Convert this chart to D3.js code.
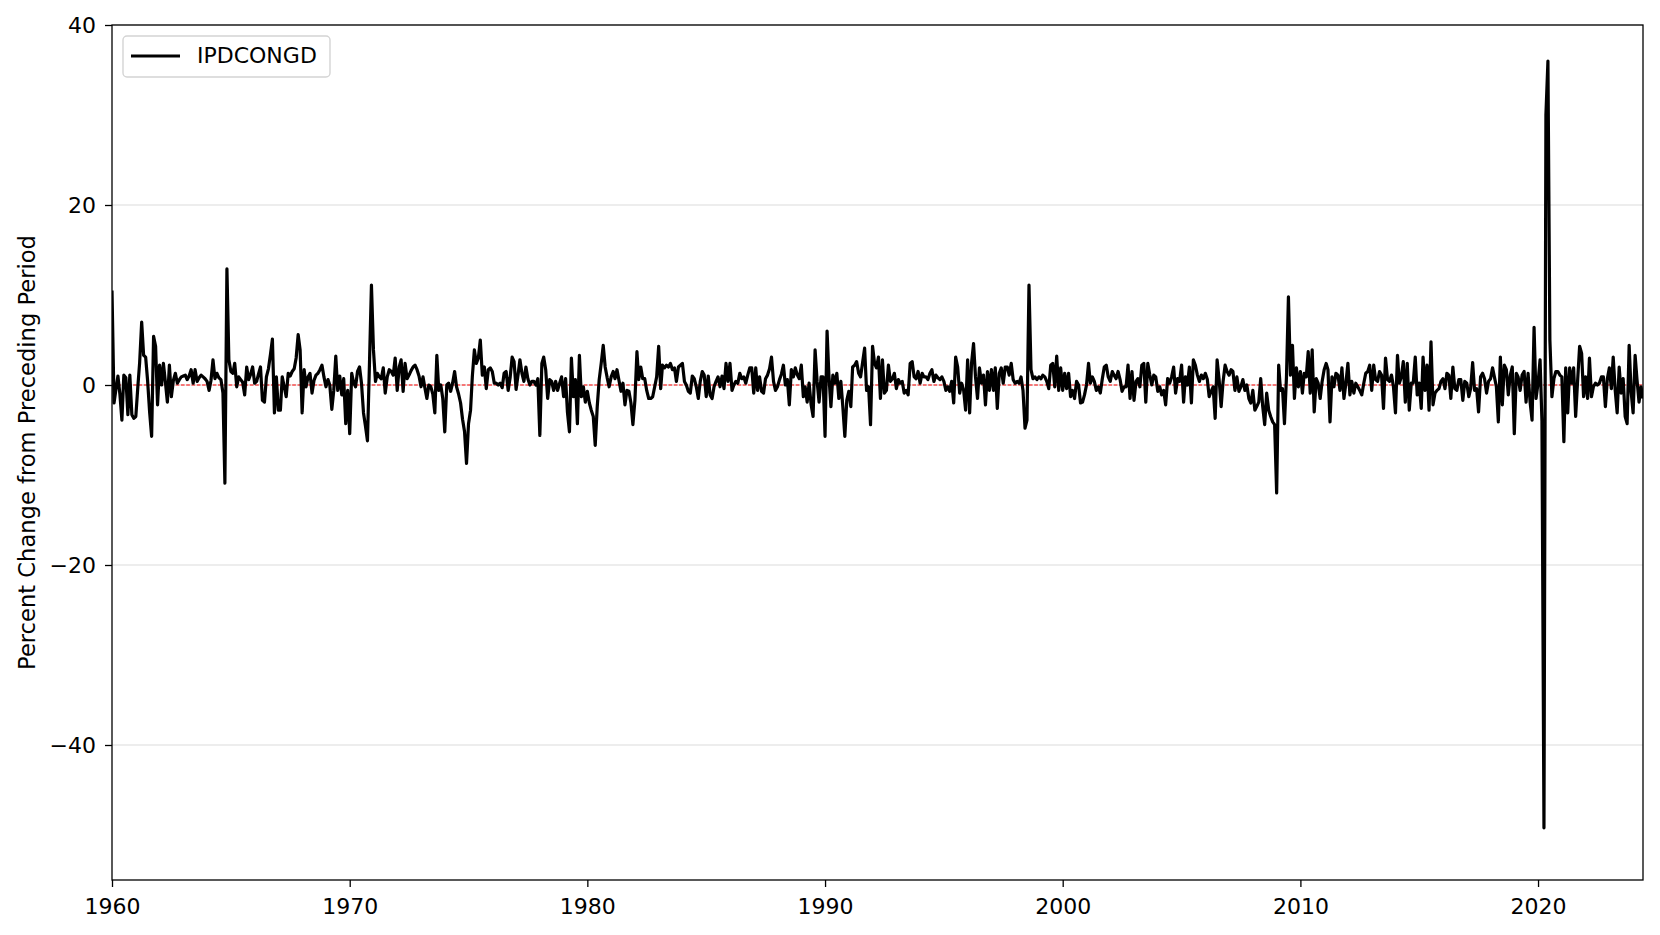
<!doctype html>
<html lang="en">
<head>
<meta charset="utf-8">
<title>IPDCONGD</title>
<script src="https://cdn.jsdelivr.net/npm/d3@7"></script>
<style>
  body { margin: 0; background: #fff; }
  svg { display: block; font-family: "DejaVu Sans", sans-serif; }
</style>
</head>
<body>
<svg id="chart" width="1660" height="935"></svg>
<script>
// monthly percent change, starting Jan 1960, one array per decade (12 values per line = one year)
const pct1960s = [
  10.5, -2.0, -0.5, 1.0, -1.0, -3.9, 1.1, 0.8, -3.3, 1.1, -3.3, -3.7,
  -3.5, -0.2, 2.5, 7.0, 3.3, 3.1, 0.5, -3.0, -5.7, 5.4, 4.3, -2.2,
  2.2, 0.0, 2.4, 0.3, -1.9, 2.2, -1.3, 0.5, 1.3, 0.2, 0.6, 0.9,
  1.0, 1.1, 0.6, 1.0, 1.7, 0.2, 1.7, 0.4, 0.8, 1.1, 0.9, 0.7,
  0.4, -0.6, 0.5, 2.8, 0.7, 1.3, 0.8, 0.6, -0.9, -10.9, 12.9, 2.8,
  1.5, 1.3, 2.4, -0.2, 0.9, 0.6, 0.3, -1.1, 2.0, 0.6, 1.2, 2.0,
  0.2, 0.4, 1.2, 2.0, -1.7, -1.9, 0.9, 1.8, 3.4, 5.1, -3.1, 0.9,
  -2.8, -2.8, 0.9, -0.2, -1.3, 1.3, 1.0, 1.5, 1.8, 3.0, 5.6, 3.9,
  -3.1, 1.7, -0.2, 0.9, 1.3, -0.9, 0.5, 1.1, 1.3, 1.7, 2.2, 0.9,
  -0.2, 0.6, 0.0, -2.7, -0.6, 3.2, -0.6, 1.0, -1.1, 0.7, -4.3, -0.6
];
const pct1970s = [
  -5.4, 1.3, 0.3, -0.2, 1.5, 2.0, 0.2, -3.1, -4.6, -6.2, 2.5, 11.1,
  3.9, 0.4, 1.3, 0.9, 0.7, 1.9, -0.9, 0.9, 1.7, 1.5, 1.1, 3.0,
  -0.6, 2.0, 2.8, -0.7, 2.4, 0.7, 1.1, 1.6, 2.0, 2.2, 1.7, 1.0,
  -0.2, 0.9, -0.3, -1.5, 0.0, -0.2, -1.0, -3.1, 3.3, -0.6, 0.0, -1.5,
  -5.2, 0.0, 0.2, -0.7, 0.2, 1.5, -0.2, -1.0, -2.0, -3.8, -5.2, -8.7,
  -4.3, -2.8, 1.0, 3.9, 2.4, 3.0, 5.0, 1.1, 2.0, -0.4, 1.7, 1.9,
  1.5, 0.2, 0.2, 0.0, 0.2, -0.3, 1.3, 1.5, -0.6, 0.8, 3.1, 2.6,
  -0.5, 1.2, 2.8, 1.3, 0.4, 2.0, 0.7, 0.0, 0.4, 0.4, 0.0, 0.7,
  -5.6, 2.4, 3.1, 1.7, -1.5, 0.6, 0.4, -0.6, 0.4, -0.6, 0.2, 0.9,
  -1.3, 0.7, -3.0, -5.2, 3.0, -1.3, 0.6, -4.3, 3.3, -1.3, -0.2, -1.9
];
const pct1980s = [
  -0.7, -2.0, -2.8, -3.5, -6.7, -2.4, 0.6, 2.4, 4.4, 2.0, 0.8, -0.2,
  0.9, 1.5, 0.7, 1.7, 0.5, -0.7, 0.2, -2.2, -0.6, -0.7, -2.0, -4.4,
  -1.7, 3.7, 0.6, 2.0, 0.7, 0.7, -0.6, -1.5, -1.5, -1.3, -0.2, 0.9,
  4.3, -0.4, 2.2, 1.9, 2.2, 2.0, 2.4, 1.7, 1.9, 0.4, 2.0, 2.2,
  2.4, 0.4, 0.0, -0.7, -0.9, 1.0, 0.7, -0.2, -1.5, 0.4, 1.5, 1.1,
  -1.3, 1.0, -1.1, -1.5, -0.2, 0.4, 0.9, -0.2, 1.0, -0.4, 2.4, 0.4,
  2.4, -0.6, 0.0, 0.4, 0.2, 1.3, 0.7, 0.9, 0.2, 1.1, 1.9, 1.9,
  -0.9, 1.9, -0.6, 0.9, -0.7, -0.9, 0.7, 1.1, 1.8, 3.1, 0.4, -0.6,
  -0.2, 0.6, 1.2, 2.2, 0.0, 0.6, -2.2, 1.7, 0.9, 1.9, 1.1, 0.7,
  2.2, -1.3, -0.2, -1.9, 0.2, -2.2, -3.5, 3.9, 0.4, -1.9, 0.9, 0.9
];
const pct1990s = [
  -5.7, 6.0, 1.1, -2.4, 1.1, 0.2, 1.3, -1.5, 0.4, -2.4, -5.7, -1.7,
  -0.7, -2.4, 2.0, 2.2, 2.6, 1.3, 0.9, 2.5, 4.1, -0.6, -0.2, -4.4,
  4.3, 2.4, 1.9, 3.1, -1.5, 2.8, -0.9, -0.6, 2.2, 0.4, 0.7, 1.3,
  -0.4, 0.6, 0.2, 0.4, -0.9, -0.6, -1.1, 2.4, 2.6, 0.9, 0.7, 1.5,
  0.2, 1.3, 0.9, 0.9, 0.6, 1.3, 1.7, 0.4, 1.1, 0.8, 0.6, 0.9,
  0.4, -0.6, -0.2, -0.7, 0.4, -2.0, 3.1, 2.0, -0.9, 0.2, -0.6, -2.8,
  2.8, -3.1, 2.4, 4.6, 0.9, -1.5, 1.9, 0.2, 1.1, -2.2, 1.5, -0.6,
  1.7, -0.6, 1.9, -2.6, 1.3, 1.9, 0.2, 2.0, 2.0, 1.1, 2.4, 0.6,
  0.2, 0.4, 0.2, 0.9, -0.6, -4.8, -3.9, 11.1, 1.7, 0.7, 0.9, 0.6,
  0.9, 0.7, 1.1, 0.9, 0.4, -0.4, 2.2, 2.4, -0.2, 3.2, -0.6, 1.9
];
const pct2000s = [
  -0.6, 1.3, -0.4, 1.3, -1.3, -0.6, -1.5, 0.4, 0.0, -2.0, -1.9, -1.1,
  0.0, 2.4, 0.2, 0.9, 0.4, -0.6, -0.2, -0.9, 0.7, 2.0, 2.2, 0.9,
  0.4, 1.5, 1.1, 0.7, 1.5, 0.6, -0.7, -0.2, -0.2, 2.2, -1.5, 1.5,
  -1.7, 0.4, 0.7, -0.2, 2.2, 2.4, -1.9, 2.4, 1.1, 0.0, 1.1, 0.9,
  -0.7, -0.2, -1.1, -0.6, -2.2, 0.7, 0.2, 0.9, 2.0, -0.9, 0.7, 0.4,
  2.2, -1.9, 0.9, 0.0, 2.0, -2.0, 2.8, 2.2, 1.1, 0.4, 1.1, 0.7,
  1.3, 0.6, -1.3, -0.7, -0.2, -3.7, 2.8, 0.6, -2.4, 0.4, 2.2, 1.5,
  1.1, 1.7, 1.5, -0.6, 0.9, -0.7, -0.2, 0.6, -0.6, 0.0, -1.5, -2.0,
  -0.6, -2.8, -2.4, -1.9, 0.7, -2.4, -4.4, -0.9, -2.8, -3.5, -4.1, -4.4,
  -12.0, 2.2, -0.6, -0.4, -4.3, 0.9, 9.8, 1.1, 4.4, -1.5, 1.9, -0.2
];
const pct2010s = [
  1.5, -0.9, 1.3, 0.9, 3.7, -0.9, 3.9, -3.0, 0.7, 0.2, -1.5, 0.4,
  1.7, 2.4, 1.7, -4.1, 0.9, -0.2, 1.3, 1.1, -0.6, 1.9, -1.5, 0.2,
  2.4, -1.1, 0.4, -0.9, 0.2, -0.2, -0.6, -1.1, 0.2, 1.3, 1.5, 2.2,
  -0.6, 2.2, 0.6, 0.4, 1.5, 1.1, -2.6, 3.0, 0.6, 0.4, 1.1, -0.2,
  -3.1, 3.3, 0.2, 0.9, 2.6, -1.9, 2.4, -2.8, 0.2, 0.2, 3.1, -1.1,
  0.2, -2.6, 3.1, -0.6, 2.2, -2.8, 4.8, -2.2, -0.9, -0.6, -0.4, 0.4,
  0.7, -0.4, 1.3, 1.1, -1.5, 2.0, -0.4, -0.6, 0.6, 0.6, -1.7, 0.4,
  0.2, -1.3, -0.4, 2.5, -0.6, -0.4, -3.0, 0.9, 1.3, 0.7, -0.9, 0.4,
  0.7, 1.9, 0.9, -0.2, -4.1, 3.1, -2.2, 2.2, 1.7, -1.1, 1.1, 2.0,
  -5.4, 1.3, 0.9, -0.6, 1.1, 1.5, -1.9, 1.3, -1.9, -3.9, 6.4, -1.5
];
const pct2020s = [
  0.2, 2.8, -4.0, -49.2, 30.0, 36.0, 5.0, -1.3, 0.7, 1.5, 1.5, 1.1,
  0.9, -6.3, 1.9, -3.1, 1.9, 0.2, 1.9, -3.5, 0.6, 4.3, 3.5, -1.3,
  0.9, -1.5, 3.0, -1.3, -0.2, 0.2, 0.0, 0.2, 0.9, 0.9, -2.4, 0.7,
  1.9, -0.4, 3.1, -0.6, -3.1, 2.0, -0.9, 0.7, -3.5, -4.3, 4.4, -0.7,
  -3.1, 3.3, 0.6, -1.9, -0.2, -1.5
];

const seriesName = "IPDCONGD";
const yLabel = "Percent Change from Preceding Period";
const yTicks = [-40, -20, 0, 20, 40];
const xTickYears = [1960, 1970, 1980, 1990, 2000, 2010, 2020];

const values = [].concat(pct1960s, pct1970s, pct1980s, pct1990s, pct2000s, pct2010s, pct2020s);
const data = values.map((v, i) => ({ date: new Date(1960, i, 1), value: v }));

const plotLeft = 112, plotRight = 1643, plotTop = 25, plotBottom = 880;
const svg = d3.select("#chart");

const x = d3.scaleTime()
  .domain(d3.extent(data, d => d.date))
  .range([plotLeft, plotRight]);
const y = d3.scaleLinear()
  .domain([-55, 40])
  .range([plotBottom, plotTop]);

svg.append("clipPath").attr("id", "plot-clip")
  .append("rect")
  .attr("x", plotLeft).attr("y", plotTop)
  .attr("width", plotRight - plotLeft).attr("height", plotBottom - plotTop);

// horizontal grid
svg.append("g")
  .selectAll("line")
  .data(yTicks)
  .enter().append("line")
  .attr("x1", plotLeft).attr("x2", plotRight)
  .attr("y1", d => y(d)).attr("y2", d => y(d))
  .attr("stroke", "#dcdcdc")
  .attr("stroke-width", 1.2);

// zero reference line
svg.append("line")
  .attr("x1", plotLeft).attr("x2", plotRight)
  .attr("y1", y(0)).attr("y2", y(0))
  .attr("stroke", "red")
  .attr("stroke-width", 1)
  .attr("stroke-dasharray", "3.7,1.6");

const line = d3.line()
  .x(d => x(d.date))
  .y(d => y(d.value));

svg.append("path")
  .datum(data)
  .attr("clip-path", "url(#plot-clip)")
  .attr("fill", "none")
  .attr("stroke", "black")
  .attr("stroke-width", 3.2)
  .attr("stroke-linejoin", "round")
  .attr("d", line);

// axes
const xAxis = svg.append("g")
  .attr("transform", `translate(0,${plotBottom})`)
  .call(d3.axisBottom(x)
    .tickValues(xTickYears.map(yr => new Date(yr, 0, 1)))
    .tickFormat(d3.timeFormat("%Y"))
    .tickSize(7)
    .tickPadding(11));

const yAxis = svg.append("g")
  .attr("transform", `translate(${plotLeft},0)`)
  .call(d3.axisLeft(y)
    .tickValues(yTicks)
    .tickFormat(d => d < 0 ? "\u2212" + Math.abs(d) : d)
    .tickSize(7)
    .tickPadding(9));

[xAxis, yAxis].forEach(g => {
  g.select(".domain").remove();
  g.selectAll(".tick line").attr("stroke", "black").attr("stroke-width", 1.3);
  g.selectAll(".tick text")
    .attr("fill", "black")
    .style("font-family", "DejaVu Sans, sans-serif")
    .style("font-size", "22px");
});

// frame
svg.append("rect")
  .attr("x", plotLeft).attr("y", plotTop)
  .attr("width", plotRight - plotLeft).attr("height", plotBottom - plotTop)
  .attr("fill", "none")
  .attr("stroke", "black")
  .attr("stroke-width", 1.3);

// y label
svg.append("text")
  .attr("transform", `translate(27,${(plotTop + plotBottom) / 2}) rotate(-90)`)
  .attr("dy", "0.35em")
  .attr("text-anchor", "middle")
  .style("font-size", "22.6px")
  .text(yLabel);

// legend
const legend = svg.append("g");
legend.append("rect")
  .attr("x", 123).attr("y", 36)
  .attr("width", 207).attr("height", 41)
  .attr("rx", 4)
  .attr("fill", "white")
  .attr("fill-opacity", 0.8)
  .attr("stroke", "#d4d4d4")
  .attr("stroke-width", 1.4);
legend.append("line")
  .attr("x1", 131).attr("x2", 180)
  .attr("y1", 56).attr("y2", 56)
  .attr("stroke", "black")
  .attr("stroke-width", 3.2);
legend.append("text")
  .attr("x", 197).attr("y", 63)
  .style("font-size", "22px")
  .text(seriesName);
</script>
</body>
</html>
